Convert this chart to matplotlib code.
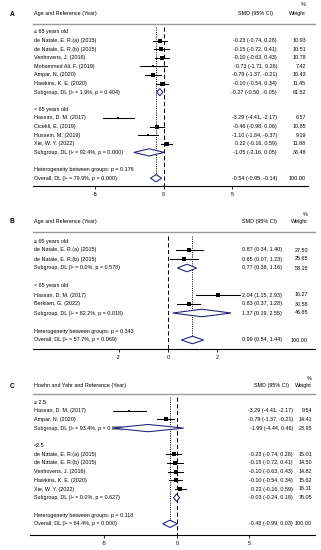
import matplotlib
matplotlib.use("Agg")
import matplotlib.pyplot as plt
from matplotlib.transforms import blended_transform_factory
from matplotlib.patches import Polygon
import numpy as np

plt.rcParams['font.family'] = ['Liberation Sans', 'DejaVu Sans']

nan = np.nan

# ---------------- Panel A data ----------------
A_header = "Age and Reference (Year)"
A_labels = ["≥ 65 years old", "de Natale, E. R.(a) (2015)", "de Natale, E. R.(b) (2015)",
            "Venhovens, J. (2016)", "Mohammed Ali, F. (2019)", "Ampar, N. (2020)",
            "Hawkins, K. E. (2020)", "Subgroup, DL (I² = 1.9%, p = 0.404)", "",
            "< 65 years old", "Hassan, D. M. (2017)", "Cicekli, E. (2019)", "Hussein, M. (2019)",
            "Xie, W. Y. (2022)", "Subgroup, DL (I² = 92.4%, p = 0.000)", "",
            "Heterogeneity between groups: p = 0.176", "Overall, DL (I² = 79.9%, p = 0.000)"]
A_kind = ['h', 's', 's', 's', 's', 's', 's', 'd', 'b', 'h', 's', 's', 's', 's', 'd', 'b', 't', 'd']
A_est = [nan, -0.23, -0.15, -0.10, -0.73, -0.79, -0.10, -0.27, nan, nan, -3.29, -0.46, -1.10, 0.22, -1.05, nan, nan, -0.54]
A_lo = [nan, -0.74, -0.72, -0.63, -1.71, -1.37, -0.54, -0.50, nan, nan, -4.41, -0.98, -1.84, -0.16, -2.16, nan, nan, -0.95]
A_hi = [nan, 0.28, 0.41, 0.43, 0.26, -0.21, 0.34, -0.05, nan, nan, -2.17, 0.06, -0.37, 0.59, 0.05, nan, nan, -0.14]
A_w = [nan, 10.93, 10.51, 10.78, 7.42, 10.43, 11.45, 61.52, nan, nan, 6.57, 10.85, 9.19, 11.88, 38.48, nan, nan, 100.00]
A_ticks = [-5, 0, 5]

# ---------------- Panel B data ----------------
B_header = "Age and Reference (Year)"
B_labels = ["≥ 65 years old", "de Natale, E. R.(a) (2015)", "de Natale, E. R.(b) (2015)",
            "Subgroup, DL (I² = 0.0%, p = 0.578)", "", "< 65 years old",
            "Hassan, D. M. (2017)", "Berkiten, G. (2022)", "Subgroup, DL (I² = 82.2%, p = 0.018)", "",
            "Heterogeneity between groups: p = 0.343", "Overall, DL (I² = 57.7%, p = 0.069)"]
B_kind = ['h', 's', 's', 'd', 'b', 'h', 's', 's', 'd', 'b', 't', 'd']
B_est = [nan, 0.87, 0.65, 0.77, nan, nan, 2.04, 0.83, 1.37, nan, nan, 0.99]
B_lo = [nan, 0.34, 0.07, 0.38, nan, nan, 1.15, 0.37, 0.19, nan, nan, 0.54]
B_hi = [nan, 1.40, 1.23, 1.16, nan, nan, 2.93, 1.28, 2.55, nan, nan, 1.44]
B_w = [nan, 27.50, 25.65, 53.15, nan, nan, 16.27, 30.58, 46.85, nan, nan, 100.00]
B_ticks = [-2, 0, 2]

# ---------------- Panel C data ----------------
C_header = "Hoehn and Yahr and Reference (Year)"
C_labels = ["≥ 2.5", "Hassan, D. M. (2017)", "Ampar, N. (2020)",
            "Subgroup, DL (I² = 93.4%, p = 0.000)", "", "<2.5",
            "de Natale, E. R.(a) (2015)", "de Natale, E. R.(b) (2015)", "Venhovens, J. (2016)",
            "Hawkins, K. E. (2020)", "Xie, W. Y. (2022)", "Subgroup, DL (I² = 0.0%, p = 0.627)", "",
            "Heterogeneity between groups: p = 0.118", "Overall, DL (I² = 64.4%, p = 0.000)"]
C_kind = ['h', 's', 's', 'd', 'b', 'h', 's', 's', 's', 's', 's', 'd', 'b', 't', 'd']
C_est = [nan, -3.29, -0.79, -1.99, nan, nan, -0.23, -0.15, -0.10, -0.10, 0.22, -0.03, nan, nan, -0.48]
C_lo = [nan, -4.41, -1.37, -4.44, nan, nan, -0.74, -0.72, -0.63, -0.54, -0.16, -0.24, nan, nan, -0.99]
C_hi = [nan, -2.17, -0.21, 0.46, nan, nan, 0.28, 0.41, 0.43, 0.34, 0.59, 0.18, nan, nan, 0.03]
C_w = [nan, 9.54, 14.41, 23.95, nan, nan, 15.01, 14.50, 14.82, 15.62, 16.11, 76.05, nan, nan, 100.00]
C_ticks = [-5, 0, 5]

W, H = 321, 550
fig = plt.figure(figsize=(W / 100, H / 100), dpi=100)

FS = 3.9
NAVY = '#1c1c78'


def fmt(v):
    return f"{v:.2f}"


def draw_panel(letter, header, labels, kind, est, lo, hi, w, ticks, L):
    x0, x1, zero, ppu = L['x0'], L['x1'], L['zero'], L['ppu']
    r0, sp, axis_y, top_y = L['r0'], L['sp'], L['axis'], L['pct'] - 6
    ax = fig.add_axes([x0 / W, 1 - axis_y / H, (x1 - x0) / W, (axis_y - top_y) / H])
    ax.set_xlim((x0 - zero) / ppu, (x1 - zero) / ppu)
    ax.set_ylim((axis_y - r0) / sp, (top_y - r0) / sp)
    ax.patch.set_alpha(0)
    for s in ['top', 'left', 'right']:
        ax.spines[s].set_visible(False)
    ax.spines['bottom'].set_linewidth(0.8)
    ax.set_yticks([])
    ax.set_xticks(ticks)
    ax.set_xticklabels([str(t) for t in ticks])
    ax.tick_params(axis='x', length=2.5, width=0.6, labelsize=FS, pad=1.5)
    tr = blended_transform_factory(fig.transFigure, ax.transData)

    def ry(py):
        return (py - r0) / sp

    # header
    fig.text(10 / W, 1 - L['hdr'] / H, letter, fontsize=4.8, fontweight='bold', va='center', ha='left')
    ax.text(34 / W, ry(L['hdr']), header, transform=tr, fontsize=FS, va='center', ha='left')
    ax.text(L['val_r'] / W - 22 / W, ry(L['hdr']), "SMD (95% CI)", transform=tr, fontsize=FS,
            va='center', ha='center')
    ax.text(L['w_r'] / W, ry(L['hdr']), "Weight", transform=tr, fontsize=FS, va='center', ha='right')
    ax.text(L['w_r'] / W, ry(L['pct']), "%", transform=tr, fontsize=FS, va='center', ha='right')
    ax.plot([33 / W, 315 / W], [ry(L['hline'])] * 2, transform=tr, color='#9a9a9a', lw=1.0,
            clip_on=False)

    n = len(labels)
    rows = np.arange(n)
    overall = est[-1]
    ylim_bottom = (axis_y - r0) / sp
    ax.plot([0, 0], [-0.6, ylim_bottom], color='black', lw=0.75, ls=(0, (4, 2.5)), zorder=1)
    ax.plot([overall, overall], [-0.6, rows[-1]], color='black', lw=0.7, ls=(0, (1, 1.3)), zorder=1)

    for i in rows:
        ax.text(34 / W, i, labels[i], transform=tr, fontsize=FS, va='center', ha='left')
        k = kind[i]
        if k in ('s', 'd'):
            ax.text(L['val_r'] / W, i, f"{fmt(est[i])} ({fmt(lo[i])}, {fmt(hi[i])})", transform=tr,
                    fontsize=FS, va='center', ha='right')
            ax.text(L['w_r'] / W, i, fmt(w[i]), transform=tr, fontsize=FS, va='center', ha='right')
        if k == 's':
            ax.plot([lo[i], hi[i]], [i, i], color='black', lw=0.75, zorder=3)
            ax.plot(est[i], i, marker='s', ms=1.2 + 0.3 * np.sqrt(w[i]), color='black', mew=0,
                    zorder=4)
        elif k == 'd':
            hh = 0.42
            poly = Polygon([(lo[i], i), (est[i], i - hh), (hi[i], i), (est[i], i + hh)],
                           closed=True, facecolor='white', edgecolor=NAVY, lw=0.75, zorder=3)
            ax.add_patch(poly)
    return ax


LA = dict(x0=33, x1=308, zero=163.5, ppu=13.7, r0=32, sp=8.6, hline=24, hdr=14, pct=5,
          axis=186, val_r=277, w_r=306)
LB = dict(x0=33, x1=315, zero=168, ppu=24.7, r0=241, sp=9.0, hline=232, hdr=222, pct=214,
          axis=349, val_r=282, w_r=308)
LC = dict(x0=30, x1=315, zero=177, ppu=14.5, r0=402, sp=8.7, hline=394, hdr=386, pct=378,
          axis=535, val_r=293, w_r=312)

draw_panel("A", A_header, A_labels, A_kind, A_est, A_lo, A_hi, A_w, A_ticks, LA)
draw_panel("B", B_header, B_labels, B_kind, B_est, B_lo, B_hi, B_w, B_ticks, LB)
draw_panel("C", C_header, C_labels, C_kind, C_est, C_lo, C_hi, C_w, C_ticks, LC)

fig.savefig("out.png", dpi=100, facecolor='white')
